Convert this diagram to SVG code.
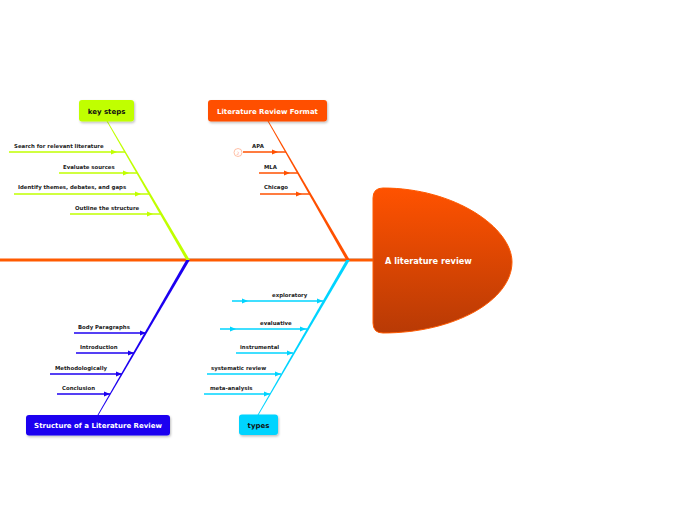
<svg xmlns="http://www.w3.org/2000/svg" width="696" height="520" viewBox="0 0 696 520">
<defs>
<linearGradient id="hg" x1="0" y1="0" x2="0" y2="1">
<stop offset="0" stop-color="#ff5200"/>
<stop offset="1" stop-color="#b83a05"/>
</linearGradient>
<filter id="sh" x="-10%" y="-10%" width="130%" height="150%">
<feDropShadow dx="1" dy="1.5" stdDeviation="1" flood-color="#000" flood-opacity="0.25"/>
</filter>
<marker id="aG" markerWidth="6" markerHeight="6" refX="5" refY="3" orient="auto" markerUnits="userSpaceOnUse"><path d="M0,0.5 L6,3 L0,5.5 Z" fill="#c0ff00"/></marker>
<marker id="aO" markerWidth="6" markerHeight="6" refX="5" refY="3" orient="auto" markerUnits="userSpaceOnUse"><path d="M0,0.5 L6,3 L0,5.5 Z" fill="#ff5000"/></marker>
<marker id="aB" markerWidth="6" markerHeight="6" refX="5" refY="3" orient="auto" markerUnits="userSpaceOnUse"><path d="M0,0.5 L6,3 L0,5.5 Z" fill="#1c00f0"/></marker>
<marker id="aC" markerWidth="6" markerHeight="6" refX="5" refY="3" orient="auto" markerUnits="userSpaceOnUse"><path d="M0,0.5 L6,3 L0,5.5 Z" fill="#00d4ff"/></marker>
</defs>
<style>
.lbl{font-family:"DejaVu Sans",Verdana,sans-serif;font-weight:bold;font-size:5.4px;fill:#222}
.box{font-family:"DejaVu Sans",Verdana,sans-serif;font-weight:bold;font-size:7px}
.g{stroke:#c0ff00;stroke-width:1.4;fill:none}
.o{stroke:#ff5000;stroke-width:1.4;fill:none}
.b{stroke:#1c00f0;stroke-width:1.4;fill:none}
.c{stroke:#00d4ff;stroke-width:1.4;fill:none}
</style>
<g id="connectors">
<line x1="0" y1="260" x2="376" y2="260" stroke="#ff5a00" stroke-width="3"/>
<line x1="80" y1="258.5" x2="376" y2="258.5" stroke="#9aa" stroke-width="0.6" opacity="0.5"/>
<polygon points="106.5,121 107.5,121 189.8,260 186.2,260" fill="#c0ff00"/>
<polygon points="267.5,121 268.5,121 349.8,260 346.2,260" fill="#ff5000"/>
<polygon points="186.2,260 189.8,260 98.5,415 97.5,415" fill="#1c00f0"/>
<polygon points="346.2,260 349.8,260 258.5,415 257.5,415" fill="#00d4ff"/>
<path d="M9,152 L116,152 L125,152" class="g" marker-mid="url(#aG)"/>
<path d="M59,173 L128,173 L137,173" class="g" marker-mid="url(#aG)"/>
<path d="M14,194 L140,194 L149,194" class="g" marker-mid="url(#aG)"/>
<path d="M70,214 L152,214 L161,214" class="g" marker-mid="url(#aG)"/>
<path d="M243,152 L277,152 L286,152" class="o" marker-mid="url(#aO)"/>
<path d="M259,173 L289,173 L298,173" class="o" marker-mid="url(#aO)"/>
<path d="M260,194 L301,194 L310,194" class="o" marker-mid="url(#aO)"/>
<path d="M74,333 L145,333 L146,333" class="b" marker-mid="url(#aB)"/>
<path d="M76,353 L133,353 L134,353" class="b" marker-mid="url(#aB)"/>
<path d="M50,374 L121,374 L122,374" class="b" marker-mid="url(#aB)"/>
<path d="M57,394 L109,394 L110,394" class="b" marker-mid="url(#aB)"/>
<path d="M232,301 L247,301 L322,301 L324,301" class="c" marker-mid="url(#aC)"/>
<path d="M220,329 L235,329 L305,329 L307,329" class="c" marker-mid="url(#aC)"/>
<path d="M236,353 L292,353 L293,353" class="c" marker-mid="url(#aC)"/>
<path d="M207,374 L280,374 L281,374" class="c" marker-mid="url(#aC)"/>
<path d="M204,394 L269,394 L270,394" class="c" marker-mid="url(#aC)"/>
</g>
<g id="head">
<path d="M383,188 Q373,188 373,198 L373,323 Q373,333 383,333 C455,333 512,300 512,262 C512,228 455,188 383,188 Z" fill="url(#hg)" stroke="#ff5a00" stroke-width="1"/>
<text x="385" y="264" font-family="DejaVu Sans,Verdana,sans-serif" font-weight="bold" font-size="8.2" fill="#fff">A literature review</text>
</g>
<g id="key-steps">
<rect x="79" y="100" width="55" height="21.5" rx="3" fill="#c0ff00" filter="url(#sh)"/>
<text x="106.5" y="113.5" text-anchor="middle" class="box" fill="#111">key steps</text>
</g>
<g id="format">
<rect x="208" y="100" width="119" height="21.5" rx="3" fill="#ff5000" filter="url(#sh)"/>
<text x="267.5" y="113.5" text-anchor="middle" class="box" fill="#fff">Literature Review Format</text>
</g>
<g id="structure">
<rect x="26" y="415" width="144" height="20.5" rx="3" fill="#1c00f0" filter="url(#sh)"/>
<text x="98" y="428" text-anchor="middle" class="box" fill="#fff">Structure of a Literature Review</text>
</g>
<g id="types">
<rect x="239" y="414.5" width="39" height="20.5" rx="3" fill="#00d4ff" filter="url(#sh)"/>
<text x="258.5" y="427.5" text-anchor="middle" class="box" fill="#111">types</text>
</g>
<g id="ks-items">
<text x="14" y="148" class="lbl">Search for relevant literature</text>
<text x="63" y="169" class="lbl">Evaluate sources</text>
<text x="18" y="189" class="lbl">Identify themes, debates, and gaps</text>
<text x="75" y="210" class="lbl">Outline the structure</text>
</g>
<g id="fmt-items">
<circle cx="238" cy="152.5" r="4" fill="#fff" stroke="#ffb090" stroke-width="0.8"/>
<text x="238" y="154.5" text-anchor="middle" font-family="DejaVu Sans,sans-serif" font-size="4.5" fill="#ffa080">2</text>
<text x="252" y="148" class="lbl">APA</text>
<text x="264" y="169" class="lbl">MLA</text>
<text x="264" y="189" class="lbl">Chicago</text>
</g>
<g id="st-items">
<text x="78" y="329" class="lbl">Body Paragraphs</text>
<text x="80" y="349" class="lbl">Introduction</text>
<text x="55" y="370" class="lbl">Methodologically</text>
<text x="62" y="390" class="lbl">Conclusion</text>
</g>
<g id="ty-items">
<text x="272" y="297" class="lbl">exploratory</text>
<text x="260" y="325" class="lbl">evaluative</text>
<text x="240" y="349" class="lbl">instrumental</text>
<text x="211" y="370" class="lbl">systematic review</text>
<text x="210" y="390" class="lbl">meta-analysis</text>
</g>
</svg>
